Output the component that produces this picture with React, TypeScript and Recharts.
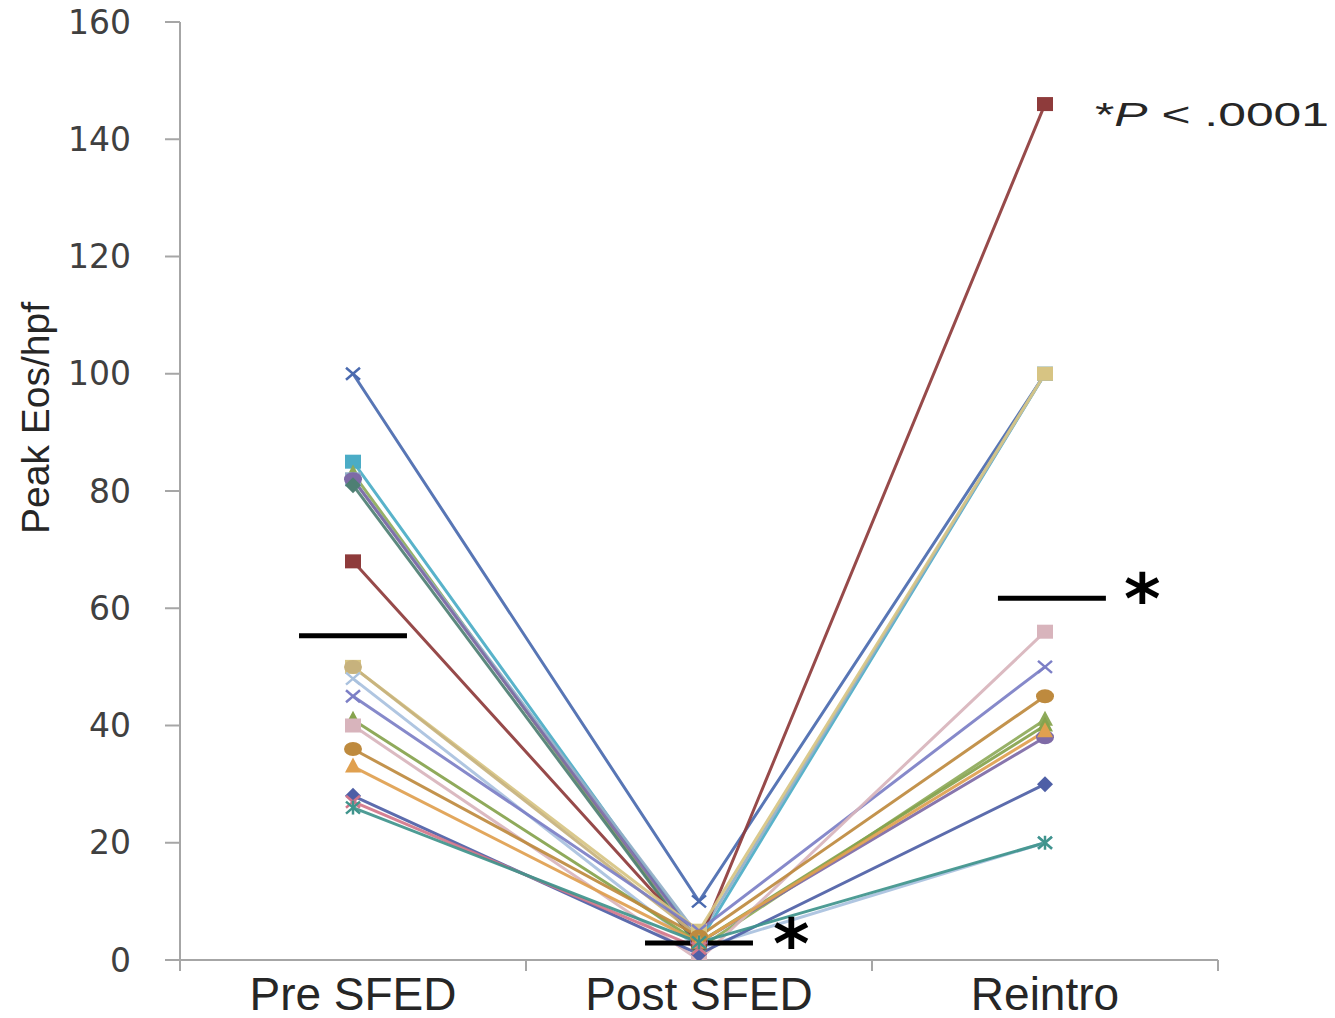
import { LineChart, Line, XAxis, YAxis, ReferenceLine } from "recharts";

const categories = ["Pre SFED", "Post SFED", "Reintro"];
const yTicks = [0, 20, 40, 60, 80, 100, 120, 140, 160];

// one entry per patient, same order in every array
const patientIds = ["p1", "p2", "p3", "p4", "p5", "p6", "p7", "p8", "p9", "p10", "p11", "p12", "p13", "p14", "p15", "p16", "p17", "p18"];
const preSfed = [100, 85, 83, 82, 82, 81, 68, 50, 50, 48, 45, 41, 40, 36, 33, 28, 27, 26];
const postSfed = [10, 3, 2, 4, 3, 2, 3, 5, 4, 2, 5, 3, 0, 4, 3, 1, 2, 3];
const reintro = [100, 100, 41, 100, 38, null, 146, 100, null, 20, 50, 40, 56, 45, 39, 30, null, 20];
const lineColors = [
  "#4A6AAF", "#4BACC6", "#8EAA5A", "#93AFC7", "#7E6AA6", "#4E7F73",
  "#8E3B3B", "#D7C483", "#C7B27D", "#A9C1DE", "#7C7FC6", "#86A34D",
  "#D8B4BC", "#BE8A3E", "#E0A04F", "#4E5FA6", "#D2768A", "#3F948C",
];
const markerShapes = [
  "x", "square", "triangle", "square", "circle", "diamond",
  "square", "square", "circle", "x", "x", "triangle",
  "square", "circle", "triangle", "diamond", "x", "star",
];

// group means (black bars)
const groupMeans = [55.3, 2.9, 61.7];
const MEAN_HALF = 0.156;

const rows = categories.map((c, i) => {
  const row: Record<string, number | null | string> = { x: i, name: c };
  patientIds.forEach((id, k) => {
    row[id] = [preSfed, postSfed, reintro][i][k];
  });
  return row;
});

function Marker({ cx, cy, shape, color }: { cx: number; cy: number; shape: string; color: string }) {
  if (cx == null || cy == null || isNaN(cx) || isNaN(cy)) return <g />;
  switch (shape) {
    case "square":
      return <rect x={cx - 8} y={cy - 7} width={16} height={14} fill={color} />;
    case "diamond":
      return <polygon points={`${cx},${cy - 8} ${cx + 8},${cy} ${cx},${cy + 8} ${cx - 8},${cy}`} fill={color} />;
    case "triangle":
      return <polygon points={`${cx},${cy - 9} ${cx + 8},${cy + 6} ${cx - 8},${cy + 6}`} fill={color} />;
    case "circle":
      return <ellipse cx={cx} cy={cy} rx={9} ry={7} fill={color} />;
    case "star":
      return (
        <g stroke={color} strokeWidth={2.5}>
          <line x1={cx - 7} y1={cy - 6} x2={cx + 7} y2={cy + 6} />
          <line x1={cx - 7} y1={cy + 6} x2={cx + 7} y2={cy - 6} />
          <line x1={cx} y1={cy - 7} x2={cx} y2={cy + 7} />
        </g>
      );
    default:
      return (
        <g stroke={color} strokeWidth={2.5}>
          <line x1={cx - 7} y1={cy - 6} x2={cx + 7} y2={cy + 6} />
          <line x1={cx - 7} y1={cy + 6} x2={cx + 7} y2={cy - 6} />
        </g>
      );
  }
}

function XTick(props: any) {
  const { x, y, payload } = props;
  const v = payload.value;
  if (Number.isInteger(v)) {
    return (
      <text x={x} y={y + 50} textAnchor="middle" fontFamily="Liberation Sans, Arial" fontSize={46} fill="#262626">
        {categories[v]}
      </text>
    );
  }
  return <line x1={x} y1={y} x2={x} y2={y + 11} stroke="#a6a6a6" strokeWidth={2} />;
}

export default function App() {
  return (
    <div style={{ position: "relative", width: 1327, height: 1010 }}>
      <LineChart
        width={1327}
        height={1010}
        data={rows}
        margin={{ top: 14, right: 117, bottom: 0, left: 0 }}
        style={{ overflow: "visible" }}
      >
        <XAxis
          type="number"
          dataKey="x"
          domain={[-0.5, 2.5]}
          ticks={[-0.5, 0, 0.5, 1, 1.5, 2, 2.5]}
          interval={0}
          tickLine={false}
          tickSize={0}
          tickMargin={0}
          stroke="#a6a6a6"
          strokeWidth={2}
          tick={<XTick />}
          height={58}
          allowDataOverflow
        />
        <YAxis
          type="number"
          domain={[0, 160]}
          ticks={yTicks}
          interval={0}
          width={172}
          tickSize={15}
          tickMargin={34}
          stroke="#a6a6a6"
          strokeWidth={2}
          tick={{ fontFamily: "DejaVu Sans", fontSize: 33, fill: "#404040" }}
          allowDataOverflow
        />
        {patientIds.map((id, k) => (
          <Line
            key={id}
            type="linear"
            dataKey={id}
            stroke={lineColors[k]}
            strokeWidth={3}
            strokeOpacity={0.92}
            connectNulls={false}
            activeDot={false}
            isAnimationActive={false}
            dot={(p: any) => (
              <Marker key={`${id}-${p.index}`} cx={p.cx} cy={p.cy} shape={markerShapes[k]} color={lineColors[k]} />
            )}
          />
        ))}
        {groupMeans.map((m, i) => (
          <ReferenceLine
            key={`mean-${i}`}
            segment={[
              { x: i - MEAN_HALF + (i === 2 ? 0.02 : 0), y: m },
              { x: i + MEAN_HALF + (i === 2 ? 0.02 : 0), y: m },
            ]}
            stroke="#000"
            strokeWidth={5}
            label={
              i === 0
                ? undefined
                : {
                    value: "*",
                    position: "right",
                    offset: i === 1 ? 20 : 18,
                    fontFamily: "DejaVu Sans",
                    fontWeight: "bold",
                    fontSize: 70,
                    fill: "#000",
                  }
            }
          />
        ))}
      </LineChart>
      <svg width={1327} height={1010} style={{ position: "absolute", left: 0, top: 0, pointerEvents: "none" }}>
        <text
          transform="translate(41, 410) rotate(-90)"
          textAnchor="middle"
          fontFamily="Liberation Sans, Arial"
          fontSize={39}
          fill="#262626"
        >
          Peak Eos/hpf
        </text>
        <text
          x={1087}
          y={118}
          fontFamily="Liberation Sans, Arial"
          fontSize={34}
          fill="#262626"
          textLength={234}
          lengthAdjust="spacingAndGlyphs"
        >
          *<tspan fontStyle="italic">P</tspan> &lt; .0001
        </text>
      </svg>
    </div>
  );
}
